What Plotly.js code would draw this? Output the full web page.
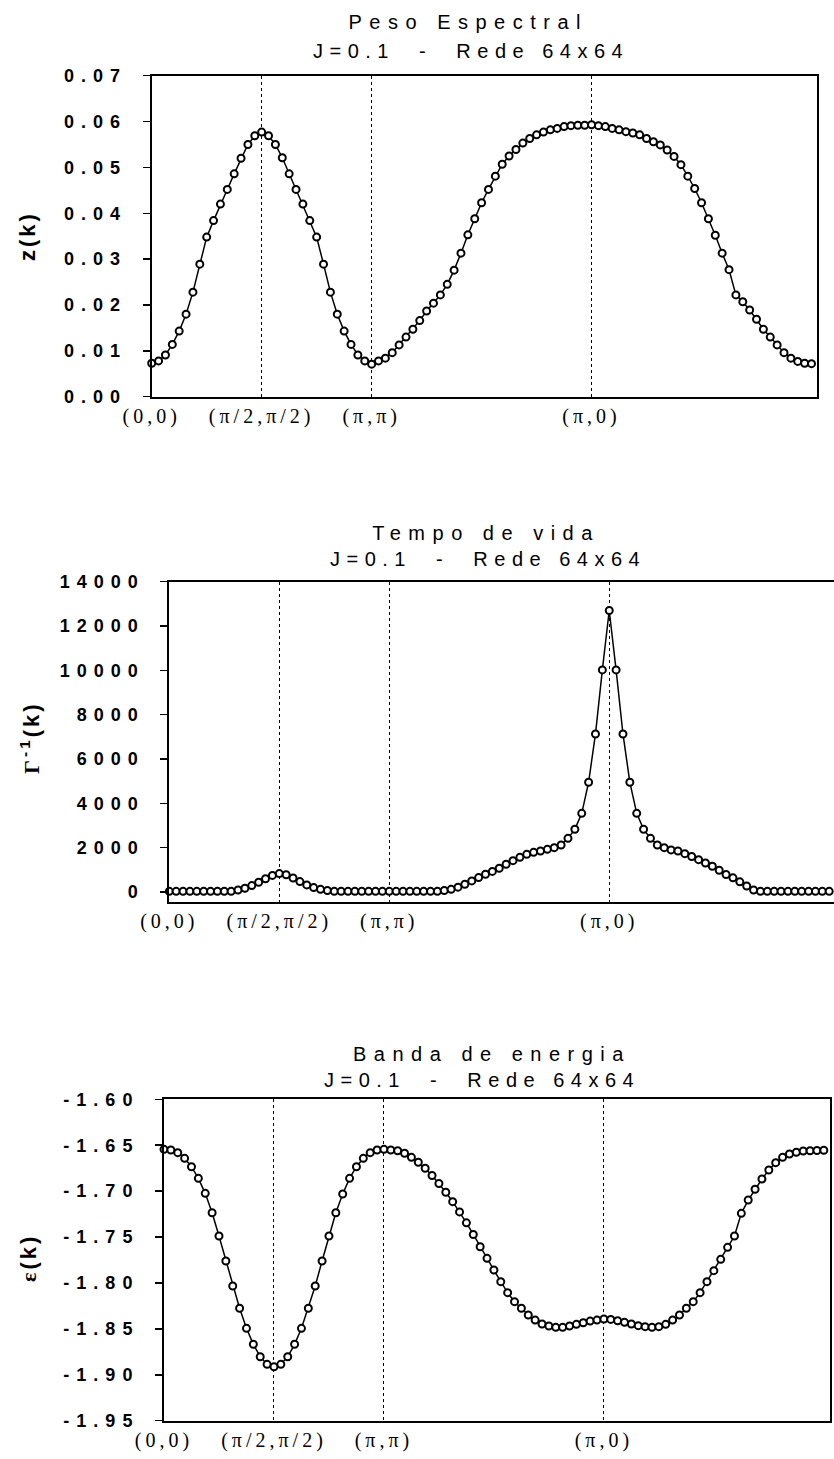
<!DOCTYPE html>
<html><head><meta charset="utf-8">
<script src="https://cdn.plot.ly/plotly-3.0.1.min.js"></script>
<style>html,body{margin:0;padding:0;background:#fff}</style>
</head><body><div id="chart" style="width:834px;height:1459px"></div>
<script>
// ---- data ----
const tickPos = [0, 16, 32, 64];
const tickLabels = ['(0,0)', '(π/2,π/2)', '(π,π)', '(π,0)'];

const zk = [0.0073,0.0078,0.0091,0.0114,0.0143,0.0180,0.0228,0.0289,0.0348,0.0384,0.0420,0.0452,0.0486,0.0520,0.0550,0.0569,0.0577,0.0569,0.0550,0.0521,0.0486,0.0452,0.0420,0.0384,0.0348,0.0289,0.0228,0.0180,0.0143,0.0114,0.0091,0.0078,0.0071,
0.0078,0.0084,0.0096,0.0113,0.0130,0.0147,0.0166,0.0187,0.0204,0.0222,0.0245,0.0276,0.0313,0.0353,0.0388,0.0423,0.0452,0.0481,0.0507,0.0525,0.0539,0.0553,0.0563,0.0571,0.0577,0.0582,0.0585,0.0589,0.0591,0.0592,
0.0592,0.0593,
0.0591,0.0589,0.0585,0.0582,0.0578,0.0575,0.0571,0.0563,0.0556,0.0549,0.0538,0.0524,0.0506,0.0481,0.0454,0.0423,0.0388,0.0352,0.0313,0.0277,0.0222,0.0207,0.0189,0.0169,0.0147,0.0130,0.0113,0.0096,0.0084,0.0077,0.0073,0.0072];

const gammaInv = [30,30,30,30,30,30,30,30,30,30,
90,170,290,440,600,750,830,780,630,470,320,200,120,70,
30,30,30,30,30,30,30,30,30,30,30,30,30,30,30,30,
70,120,220,350,500,650,800,930,1070,1250,1413,1565,1700,1790,1850,1926,2000,2120,2420,2830,3550,4950,7130,10020,12700,
10020,7130,4950,3550,2830,2420,2120,2000,1900,1850,1730,1600,1460,1310,1160,980,790,640,460,270,90,
30,30,30,30,30,30,30,30,30,30,30];

const eps = [-1.6545,-1.6552,-1.6581,-1.6643,-1.6734,-1.6861,-1.7024,-1.7235,-1.7489,-1.7761,-1.8033,-1.8276,-1.8494,-1.8668,-1.8803,-1.8886,-1.8912,-1.8886,-1.8803,-1.8668,-1.8494,-1.8276,-1.8033,-1.7761,-1.7489,-1.7235,-1.7031,-1.6861,-1.6734,-1.6643,-1.6581,-1.6552,-1.6545,
-1.6552,-1.6560,-1.6588,-1.6632,-1.6686,-1.6751,-1.6830,-1.6917,-1.7012,-1.7115,-1.7226,-1.7345,-1.7472,-1.7606,-1.7732,-1.7859,-1.7986,-1.8106,-1.8204,-1.8276,-1.8349,-1.8404,-1.8447,-1.8469,-1.8483,-1.8483,-1.8469,-1.8451,-1.8433,-1.8415,-1.8404,-1.8393,
-1.8397,-1.8411,-1.8429,-1.8447,-1.8465,-1.8476,-1.8483,-1.8476,-1.8451,-1.8404,-1.8349,-1.8276,-1.8204,-1.8106,-1.7986,-1.7866,-1.7743,-1.7612,-1.7489,-1.7242,-1.7097,-1.6980,-1.6868,-1.6770,-1.6690,-1.6632,-1.6596,-1.6577,-1.6563,-1.6560,-1.6558,-1.6555];

const yTicks1 = [0, 0.01, 0.02, 0.03, 0.04, 0.05, 0.06, 0.07];
const yTicks2 = [0, 2000, 4000, 6000, 8000, 10000, 12000, 14000];
const yTicks3 = [-1.95, -1.90, -1.85, -1.80, -1.75, -1.70, -1.65, -1.60];

const titles = [
  ['Peso Espectral', 'J=0.1\u00a0\u00a0-\u00a0\u00a0Rede 64x64'],
  ['Tempo de vida', 'J=0.1\u00a0\u00a0-\u00a0\u00a0Rede 64x64'],
  ['Banda de energia', 'J=0.1\u00a0\u00a0-\u00a0\u00a0Rede 64x64']
];
const yTitles = ['z(k)', '<span style="font-family:Liberation Serif">Γ</span><sup>-1</sup>(k)', '<span style="font-family:Liberation Serif">ε</span>(k)'];

// ---- layout helpers ----
const W = 834, H = 1459;
const X = p => p / W, Y = p => 1 - p / H;
const idx = zk.map((_, i) => i);

function trace(y, n) {
  return {
    x: idx, y: y, xaxis: 'x' + n, yaxis: 'y' + n, type: 'scatter', mode: 'lines+markers',
    line: {color: '#000', width: 1.5},
    marker: {symbol: 'circle', size: 7, color: '#fff', line: {color: '#000', width: 2}},
    cliponaxis: false, showlegend: false, hoverinfo: 'skip'
  };
}
function xax(l, r, rng, anchor, mirror) {
  return {domain: [X(l), r >= W ? 1 : X(r)], range: rng, anchor: anchor,
    tickmode: 'array', tickvals: tickPos, ticktext: tickLabels, ticks: '',
    showgrid: true, gridcolor: '#000', gridwidth: 1, griddash: 'dot',
    showline: true, linecolor: '#000', linewidth: 2, mirror: mirror, zeroline: false,
    tickfont: {family: 'Liberation Serif', size: 20, color: '#000'}, fixedrange: true};
}
function yax(t, b, rng, anchor, vals, dec, mirror) {
  return {domain: [Y(b), Y(t)], range: rng, anchor: anchor,
    tickmode: 'array', tickvals: vals, ticktext: vals.map(v => v.toFixed(dec)),
    ticks: 'outside', ticklen: 7, tickwidth: 1.5, tickcolor: '#000', ticklabelstandoff: 12,
    showgrid: false, showline: true, linecolor: '#000', linewidth: 2, mirror: mirror, zeroline: false,
    tickfont: {family: 'Liberation Sans', size: 18, color: '#000', weight: 'bold'}, fixedrange: true};
}

const data = [trace(zk, ''), trace(gammaInv, '2'), trace(eps, '3')];
data[0].xaxis = 'x'; data[0].yaxis = 'y';

const ann = [];
const ls = [];
function addTitle(lines, x1, y1, x2, y2) {
  ann.push({text: lines[0], x: X(x1), y: Y(y1), xref: 'paper', yref: 'paper', showarrow: false,
    xanchor: 'center', yanchor: 'middle', font: {family: 'Liberation Sans', size: 20, color: '#000'}});
  ls.push('7.5px');
  ann.push({text: lines[1], x: X(x2), y: Y(y2), xref: 'paper', yref: 'paper', showarrow: false,
    xanchor: 'center', yanchor: 'middle', font: {family: 'Liberation Sans', size: 20, color: '#000'}});
  ls.push('6.5px');
}
addTitle(titles[0], 469, 22, 471, 51);
addTitle(titles[1], 486, 533, 488, 559);
addTitle(titles[2], 492, 1054, 482, 1080);
function addYTitle(t, x, y) {
  ann.push({text: t, x: X(x), y: Y(y), xref: 'paper', yref: 'paper', showarrow: false, textangle: -90,
    xanchor: 'center', yanchor: 'middle', font: {family: 'Liberation Sans', size: 22, color: '#000', weight: 'bold'}});
  ls.push('3px');
}
addYTitle(yTitles[0], 27, 236);
addYTitle(yTitles[1], 30, 738);
addYTitle(yTitles[2], 28, 1258);

const layout = {
  width: W, height: H, margin: {l: 0, r: 0, t: 0, b: 0},
  paper_bgcolor: '#fff', plot_bgcolor: '#fff', showlegend: false,
  xaxis: xax(151.7, 817, [0, 96.8], 'y', true),
  yaxis: yax(75.7, 396.7, [0, 0.07], 'x', yTicks1, 2, true),
  xaxis2: xax(169.3, 834, [0, 96.7], 'y2', true),
  yaxis2: yax(581.7, 902, [-451, 14000], 'x2', yTicks2, 0, false),
  xaxis3: xax(164, 830, [0, 96.9], 'y3', true),
  yaxis3: yax(1099.3, 1420.7, [-1.95, -1.60], 'x3', yTicks3, 2, true),
  annotations: ann
};

Plotly.newPlot('chart', data, layout, {staticPlot: true, displayModeBar: false}).then(gd => {
  gd.querySelectorAll('.yaxislayer-above text').forEach(t => { t.style.letterSpacing = '7px'; });
  gd.querySelectorAll('.xaxislayer-above text').forEach(t => { t.style.letterSpacing = '4px'; });
  gd.querySelectorAll('g.annotation').forEach(g => {
    const i = +g.getAttribute('data-index');
    const t = g.querySelector('text');
    if (t && ls[i]) t.style.letterSpacing = ls[i];
  });
});
</script>
</body></html>
